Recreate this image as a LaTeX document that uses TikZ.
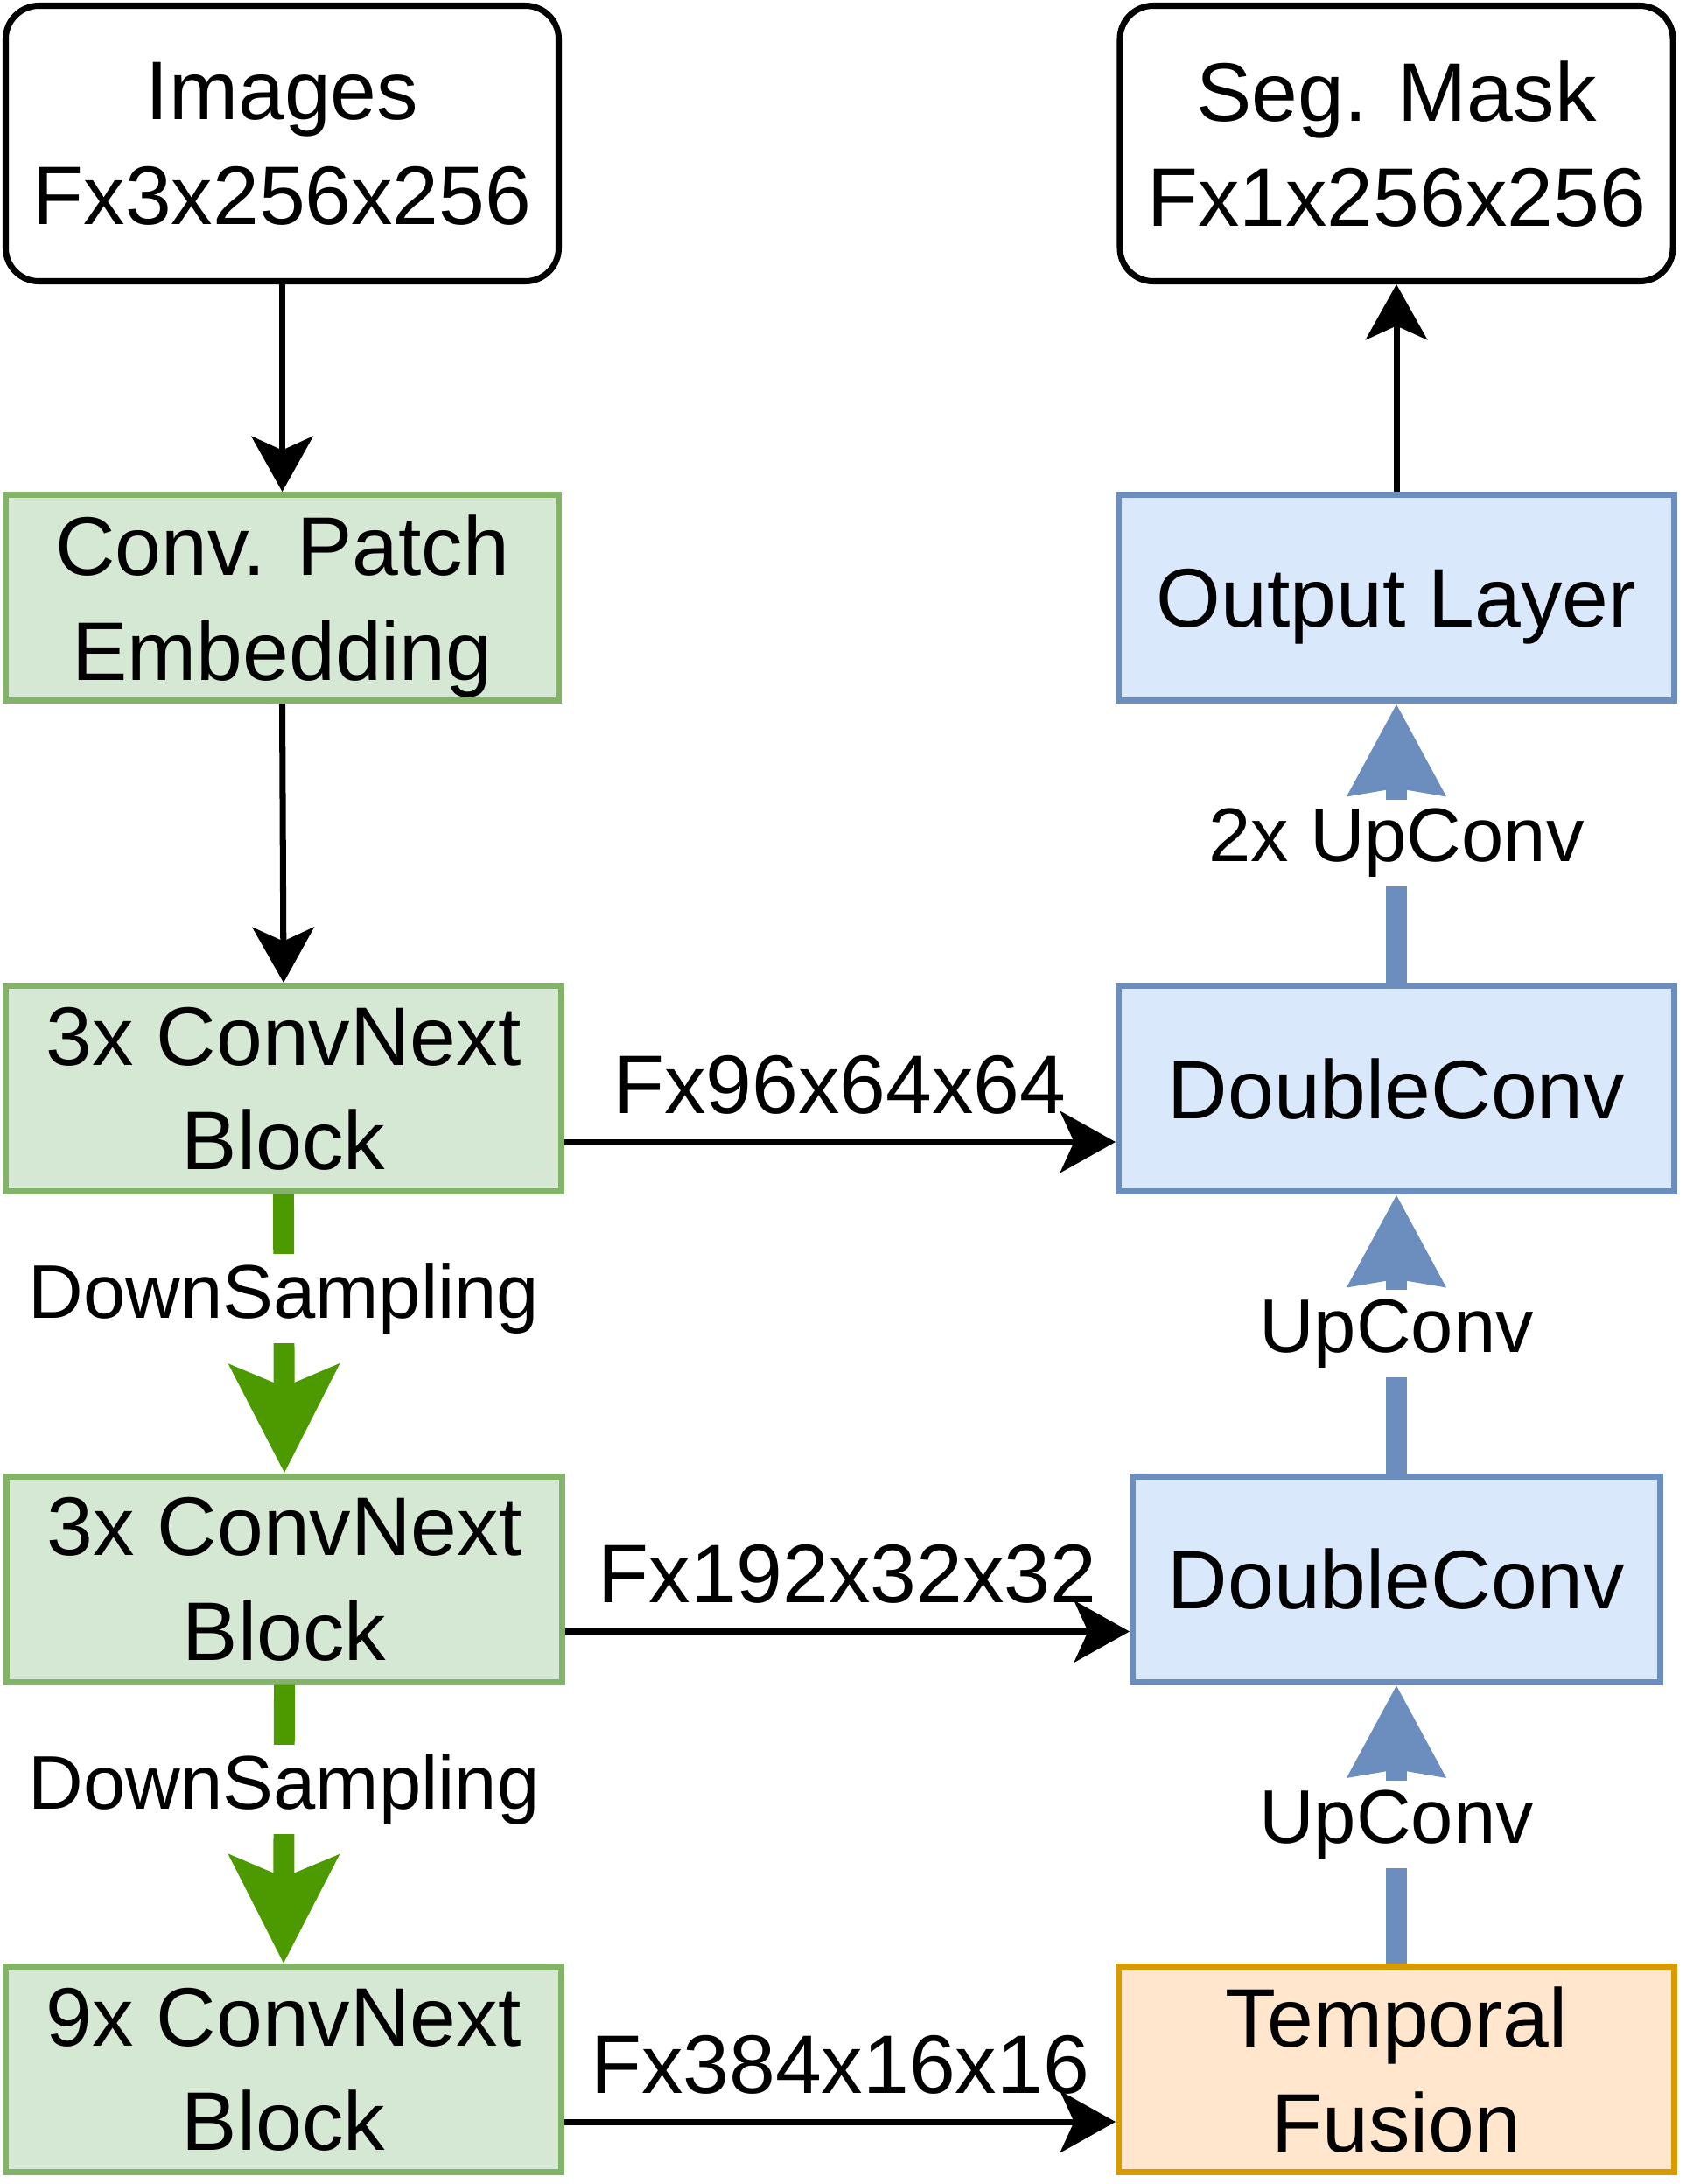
\documentclass[tikz,border=0pt]{standalone}
\usepackage{fontspec}
\setmainfont{Liberation Sans}
\usepackage{xcolor}
\usepackage{tikz}
\usetikzlibrary{arrows.meta,positioning,calc}
\definecolor{encfill}{HTML}{D5E8D4}
\definecolor{encdraw}{HTML}{82B366}
\definecolor{decfill}{HTML}{DAE8FC}
\definecolor{decdraw}{HTML}{6C8EBF}
\definecolor{fusefill}{HTML}{FFE6CC}
\definecolor{fusedraw}{HTML}{D79B00}
\definecolor{downgreen}{HTML}{4D9900}

\begin{document}
\begin{tikzpicture}[x=1cm,y=1cm,
  box/.style={draw,line width=2pt,minimum width=6.35cm,minimum height=2.35cm,
              align=center,inner sep=0pt,text depth=0pt,font=\fontsize{27}{34}\selectfont},
  iobox/.style={box,rounded corners=0.38cm,minimum width=6.32cm,minimum height=3.15cm},
  encbox/.style={box,fill=encfill,draw=encdraw},
  decbox/.style={box,fill=decfill,draw=decdraw},
  fusebox/.style={box,fill=fusefill,draw=fusedraw},
  flow/.style={line width=2pt,-{Stealth[length=18pt,width=20pt,inset=4.5pt]}},
  down/.style={draw=downgreen,line width=6.8pt,-{Stealth[length=35pt,width=35pt,inset=7pt]}},
  up/.style={draw=decdraw,line width=6.8pt,-{Stealth[length=29.5pt,width=30.5pt,inset=2pt]}},
  steplbl/.style={fill=white,inner sep=3pt,font=\fontsize{24.7}{30}\selectfont},
  dimlbl/.style={above=8pt,inner sep=0pt,font=\fontsize{27}{32}\selectfont}]
  \useasboundingbox (0,0) rectangle (19.28,-24.96);

  % encoder column on the left, decoder column on the right
  \node[iobox] (img) at (3.225,-1.64) {Images\\Fx3x256x256};
  \node[encbox,minimum width=6.32cm] (patch) at (3.225,-6.83) {Conv. Patch\\Embedding};
  \node[encbox] (cn1) at (3.24,-12.44) {3x ConvNext\\Block};
  \node[encbox] (cn2) at (3.25,-18.045) {3x ConvNext\\Block};
  \node[encbox] (cn3) at (3.24,-23.65) {9x ConvNext\\Block};

  \node[iobox] (seg) at (15.96,-1.64) {Seg. Mask\\Fx1x256x256};
  \node[decbox] (out) at (15.96,-6.83) {Output Layer};
  \node[decbox] (dc1) at (15.96,-12.44) {DoubleConv};
  \node[decbox,minimum width=6.03cm] (dc2) at (15.96,-18.045) {DoubleConv};
  \node[fusebox] (tf) at (15.96,-23.65) {Temporal\\Fusion};

  \draw[flow] (img.south) -- (patch.north);
  \draw[flow] (patch.south) -- (cn1.north);
  \draw[down] (cn1.south) -- node[steplbl,pos=0.375] {DownSampling} (cn2.north);
  \draw[down] (cn2.south) -- node[steplbl,pos=0.375] {DownSampling} (cn3.north);

  \draw[flow] ([yshift=-6.1mm]cn1.east) -- node[dimlbl] {Fx96x64x64} ([yshift=-6.1mm]dc1.west);
  \draw[flow] ([yshift=-6.0mm]cn2.east) -- node[dimlbl] {Fx192x32x32} ([yshift=-6.0mm]dc2.west);
  \draw[flow] ([yshift=-6.0mm]cn3.east) -- node[dimlbl] {Fx384x16x16} ([yshift=-6.0mm]tf.west);

  \draw[up] (tf.north) -- node[steplbl] {UpConv} (dc2.south);
  \draw[up] (dc2.north) -- node[steplbl] {UpConv} (dc1.south);
  \draw[up] (dc1.north) -- node[steplbl] {2x UpConv} (out.south);
  \draw[flow] (out.north) -- (seg.south);
\end{tikzpicture}
\end{document}
